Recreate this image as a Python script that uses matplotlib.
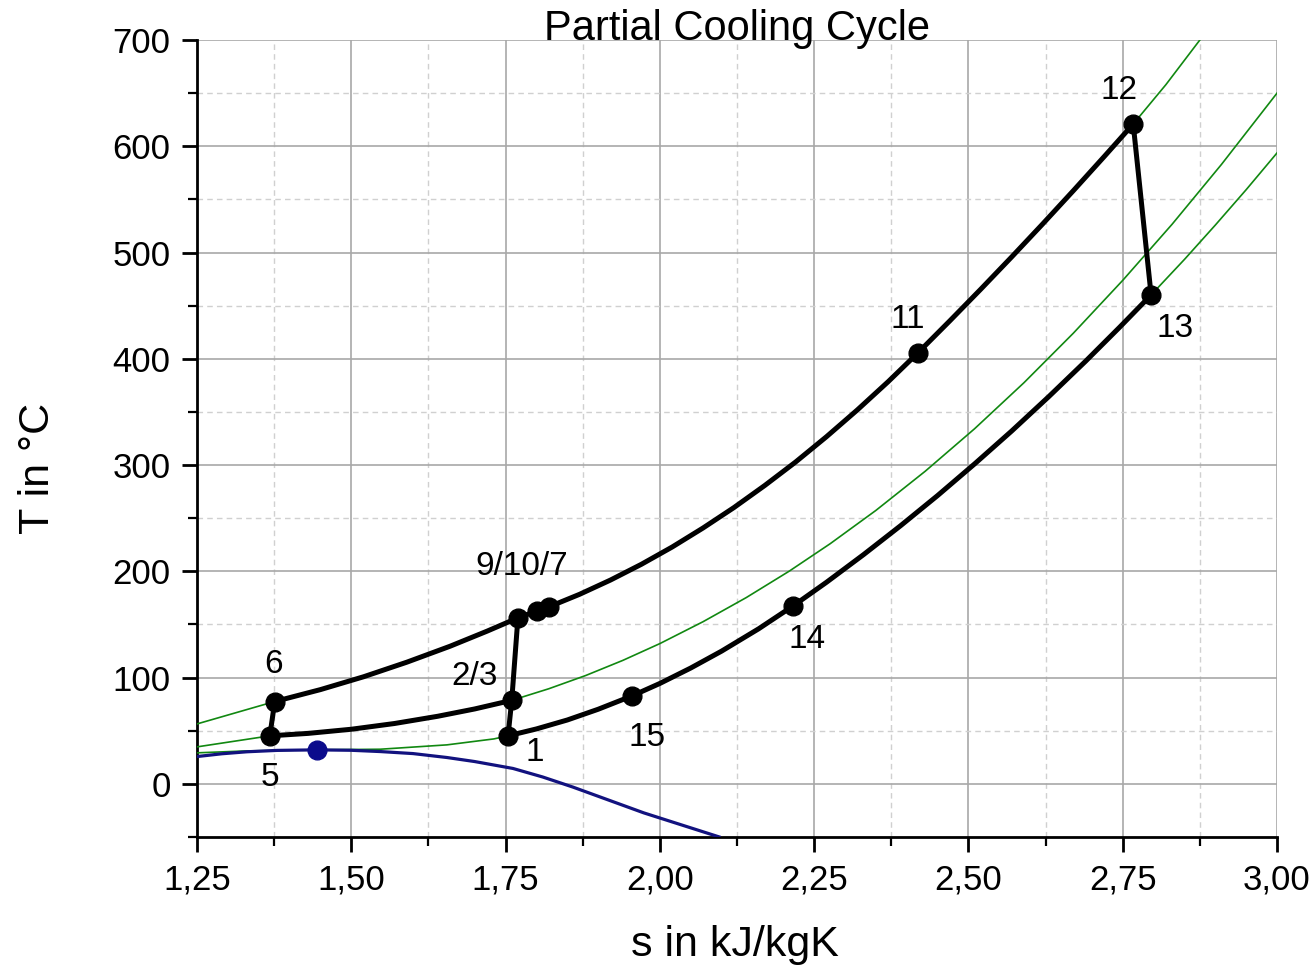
import numpy as np
import matplotlib.pyplot as plt
from matplotlib.ticker import MultipleLocator, FuncFormatter

plt.rcParams['font.family'] = ['Liberation Sans', 'DejaVu Sans']

# cycle state points (s in kJ/kgK, T in degC)
state_names = ['1', '2/3', '9', '10', '7', '11', '12', '13', '14', '15', '5', '6']
state_s = [1.754, 1.760, 1.770, 1.801, 1.820, 2.418, 2.767, 2.796, 2.216, 1.955, 1.368, 1.376]
state_T = [45.2, 78.6, 156.2, 162.8, 166.5, 405.5, 620.9, 460.1, 167.5, 82.8, 45.2, 77.5]

# high pressure heating 6 -> 9 -> 10 -> 7 -> 11 -> 12
hp_s = [1.376, 1.45, 1.52, 1.59, 1.66, 1.72, 1.770, 1.801, 1.820, 1.87, 1.92, 1.97, 2.02,
        2.07, 2.12, 2.17, 2.22, 2.27, 2.32, 2.37, 2.418, 2.47, 2.52, 2.57, 2.62, 2.67,
        2.72, 2.767]
hp_T = [77.5, 88.7, 100.8, 114.5, 129.5, 143.7, 156.2, 162.8, 166.5, 178.4, 191.8, 206.6,
        222.9, 240.8, 260.0, 280.8, 302.9, 326.7, 351.9, 378.5, 405.5, 435.8, 465.5, 495.8,
        526.7, 558.2, 590.3, 620.9]

# low pressure cooling 1 <- 15 <- 14 <- 13
lp_s = [1.754, 1.80, 1.85, 1.90, 1.955, 2.00, 2.05, 2.10, 2.16, 2.216, 2.27, 2.33, 2.39,
        2.45, 2.51, 2.57, 2.63, 2.69, 2.745, 2.796]
lp_T = [45.2, 51.7, 60.1, 70.2, 82.8, 94.5, 109.0, 124.9, 145.9, 167.5, 189.7, 215.7,
        242.9, 271.3, 301.1, 332.0, 364.3, 397.8, 429.7, 460.1]

# intermediate pressure cooling 2/3 -> 5
ip_s = [1.368, 1.43, 1.50, 1.57, 1.64, 1.70, 1.760]
ip_T = [45.2, 47.5, 51.4, 56.8, 63.6, 70.5, 78.6]

# compression 1 -> 2/3 -> 9, 5 -> 6, turbine 12 -> 13
comp_s = [1.754, 1.760, 1.770]
comp_T = [45.2, 78.6, 156.2]
mc_s = [1.368, 1.376]
mc_T = [45.2, 77.5]
turb_s = [2.767, 2.796]
turb_T = [620.9, 460.1]

# visible parts of the isobars (green)
iso_hi_left_s = [1.25, 1.376]
iso_hi_left_T = [56.4, 77.5]
iso_hi_right_s = [2.767, 2.82, 2.875]
iso_hi_right_T = [620.9, 658.0, 700.0]

iso_mid_left_s = [1.25, 1.368]
iso_mid_left_T = [34.8, 45.2]
iso_mid_right_s = [1.760, 1.82, 1.88, 1.94, 2.00, 2.07, 2.14, 2.21, 2.276, 2.35, 2.43,
                   2.51, 2.59, 2.67, 2.75, 2.83, 2.91, 3.00]
iso_mid_right_T = [78.6, 89.5, 102.0, 116.2, 132.0, 152.6, 175.3, 200.3, 226.0, 257.3,
                   294.2, 334.2, 377.5, 424.1, 473.8, 526.6, 582.9, 650.0]

iso_lo_left_s = [1.25, 1.33, 1.438, 1.547, 1.655, 1.731, 1.754]
iso_lo_left_T = [29.2, 31.0, 32.0, 32.6, 36.7, 42.3, 45.2]
iso_lo_right_s = [2.796, 2.85, 2.90, 2.95, 3.00]
iso_lo_right_T = [460.1, 493.5, 525.8, 559.1, 593.7]

# saturation line and critical point
sat_s = [1.25, 1.29, 1.331, 1.38, 1.444, 1.50, 1.547, 1.60, 1.655, 1.70, 1.762, 1.81,
         1.859, 1.974, 2.096]
sat_T = [25.7, 28.3, 30.2, 31.5, 32.0, 31.6, 30.4, 28.5, 24.8, 21.0, 14.5, 6.5, -3.0,
         -27.3, -49.9]
crit_s = 1.444
crit_T = 31.5

fig = plt.figure(figsize=(13.15, 9.67), dpi=100)
ax = fig.add_axes([197 / 1315, 1 - 837 / 967, 1080 / 1315, 797 / 967])

green = '#118811'
for s_, T_ in [(iso_hi_left_s, iso_hi_left_T), (iso_hi_right_s, iso_hi_right_T),
               (iso_mid_left_s, iso_mid_left_T), (iso_mid_right_s, iso_mid_right_T),
               (iso_lo_left_s, iso_lo_left_T), (iso_lo_right_s, iso_lo_right_T)]:
    ax.plot(s_, T_, color=green, lw=1.2, zorder=3)
# green isobars also run under the black cycle lines
ax.plot(hp_s, hp_T, color=green, lw=1.2, zorder=3)
ax.plot(ip_s, ip_T, color=green, lw=1.2, zorder=3)
ax.plot(lp_s, lp_T, color=green, lw=1.2, zorder=3)

ax.plot(sat_s, sat_T, color='#12127f', lw=2.3, zorder=4)
ax.plot(crit_s, crit_T, 'o', color='#0b0b8c', ms=13.5, zorder=6)

for s_, T_ in [(hp_s, hp_T), (lp_s, lp_T), (ip_s, ip_T), (comp_s, comp_T),
               (mc_s, mc_T), (turb_s, turb_T)]:
    ax.plot(s_, T_, color='black', lw=3.6, solid_capstyle='round',
            solid_joinstyle='round', zorder=5)
ax.plot(state_s, state_T, 'o', color='black', ms=13.5, zorder=6)

# state labels, offsets in points
labels = [('1', '1', 19, -12), ('2/3', '2/3', -27, 17), ('9/10/7', '9', 3, 37),
          ('11', '11', -7, 24), ('12', '12', -10, 24), ('13', '13', 17, -24),
          ('14', '14', 10, -24), ('15', '15', 11, -30), ('5', '5', 0, -30),
          ('6', '6', -1, 27)]
for txt, key, dx, dy in labels:
    i = state_names.index(key)
    ax.annotate(txt, (state_s[i], state_T[i]), xytext=(dx, dy), textcoords='offset points',
                ha='center', va='center', fontsize=24, zorder=7)

ax.set_xlim(1.25, 3.0)
ax.set_ylim(-50, 700)
ax.xaxis.set_major_locator(MultipleLocator(0.25))
ax.xaxis.set_minor_locator(MultipleLocator(0.125))
ax.yaxis.set_major_locator(MultipleLocator(100))
ax.yaxis.set_minor_locator(MultipleLocator(50))
ax.xaxis.set_major_formatter(FuncFormatter(lambda v, p: f'{v:.2f}'.replace('.', ',')))
ax.yaxis.set_major_formatter(FuncFormatter(lambda v, p: f'{v:.0f}' if v >= 0 else ''))

ax.grid(which='major', color='#a8a8a8', lw=1.2, ls='-', zorder=0)
ax.grid(which='minor', color='#d0d0d0', lw=1.0, ls=(0, (4, 3)), zorder=0)
ax.set_axisbelow(True)

for side in ['top', 'right']:
    ax.spines[side].set_visible(False)
for side in ['left', 'bottom']:
    ax.spines[side].set_linewidth(2.0)
ax.tick_params(which='major', direction='out', length=11, width=2.0, labelsize=25, pad=8)
ax.tick_params(which='minor', direction='out', length=6.5, width=1.6)

fig.text(737 / 1315, 1 - 40 / 967, 'Partial Cooling Cycle', ha='center', va='baseline', fontsize=30)
fig.text(735 / 1315, 1 - 956 / 967, 's in kJ/kgK', ha='center', va='baseline', fontsize=31)
fig.text(38 / 1315, 1 - 468 / 967, 'T in °C', ha='center', va='center', rotation=90, fontsize=31)

fig.savefig('out.png', dpi=100)
